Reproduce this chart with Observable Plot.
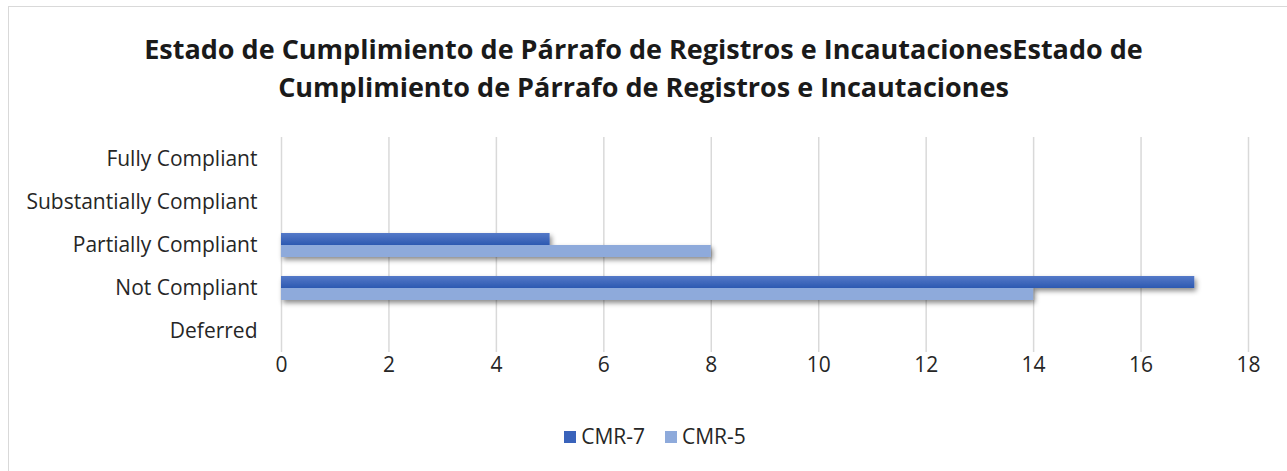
<!DOCTYPE html>
<html>
<head>
<meta charset="utf-8">
<script src="https://cdn.jsdelivr.net/npm/d3@7"></script>
<script src="https://cdn.jsdelivr.net/npm/@observablehq/plot@0.6"></script>
<style>
  html, body { margin: 0; padding: 0; background: #fff; }
  body { width: 1287px; height: 471px; position: relative; overflow: hidden; font-family: "Open Sans", Lato, sans-serif; }
  #frame { position: absolute; left: 8px; top: 6px; width: 1300px; height: 480px; border: 1px solid #d9d9d9; box-sizing: border-box; }
  #title { position: absolute; left: 0; width: 1287px; top: 30px; text-align: center; font-weight: 700; font-size: 27px; line-height: 38px; color: #1a1a1a; }
  #title span { display: block; }
  #chart { position: absolute; left: 0; top: 120px; }
  #legend { position: absolute; top: 422px; left: 0; width: 1310px; text-align: center; font-size: 21px; color: #262626; }
  .sw { display: inline-block; width: 12px; height: 12px; margin-right: 5px; vertical-align: 1px; }
  .item { margin: 0 10px; }
</style>
</head>
<body>
<div id="frame"></div>
<div id="title"></div>
<div id="chart"></div>
<div id="legend"></div>
<script>
const titleLines = ["Estado de Cumplimiento de Párrafo de Registros e IncautacionesEstado de", "Cumplimiento de Párrafo de Registros e Incautaciones"];
const categories = ["Fully Compliant", "Substantially Compliant", "Partially Compliant", "Not Compliant", "Deferred"];
const series = ["CMR-7", "CMR-5"];
const cmr7 = [0, 0, 5, 17, 0];
const cmr5 = [0, 0, 8, 14, 0];
const xTicks = [0, 2, 4, 6, 8, 10, 12, 14, 16, 18];
const colors = ["#3a63bb", "#8eaadb"];

document.getElementById("title").innerHTML = titleLines.map(t => `<span>${t}</span>`).join("");

const data = categories.flatMap((c, i) => [
  {category: c, series: series[0], value: cmr7[i]},
  {category: c, series: series[1], value: cmr5[i]}
]);

const chart = Plot.plot({
  width: 1287,
  height: 262,
  marginLeft: 281,
  marginRight: 39,
  marginTop: 17,
  marginBottom: 30,
  style: {fontFamily: "'Open Sans', Lato, sans-serif", fontSize: "21px", color: "#262626", background: "transparent"},
  x: {domain: [0, 18], ticks: xTicks, label: null, tickSize: 0, tickPadding: 5},
  fy: {domain: categories, padding: 0, label: null, axis: "left", tickSize: 0, tickPadding: 24},
  y: {domain: series, axis: null, paddingInner: 0, paddingOuter: 0.67},
  color: {domain: series, range: colors},
  marks: [
    Plot.ruleX(xTicks, {stroke: "#d9d9d9", strokeWidth: 1.5}),
    Plot.barX(data, {x: "value", y: "series", fy: "category", fill: "series"})
  ]
});
document.getElementById("chart").appendChild(chart);

// drop shadow + gradient for bars
const svg = d3.select(chart);
const defs = svg.insert("defs", ":first-child");
const f = defs.append("filter").attr("id", "shadow").attr("x", "-5%").attr("y", "-50%").attr("width", "110%").attr("height", "220%");
f.append("feDropShadow").attr("dx", 2).attr("dy", 3).attr("stdDeviation", 2.5).attr("flood-color", "#000").attr("flood-opacity", 0.45);
const g = defs.append("linearGradient").attr("id", "g7").attr("x1", 0).attr("y1", 0).attr("x2", 0).attr("y2", 1);
g.append("stop").attr("offset", "0%").attr("stop-color", "#5479c8");
g.append("stop").attr("offset", "100%").attr("stop-color", "#2d59b1");
svg.selectAll("g[aria-label='bar']").attr("filter", "url(#shadow)");
svg.selectAll("g[aria-label='bar'] rect").each(function() {
  const el = d3.select(this);
  if (el.attr("fill") === colors[0]) el.attr("fill", "url(#g7)");
});

document.getElementById("legend").innerHTML = series.map((s, i) =>
  `<span class="item"><span class="sw" style="background:${colors[i]}"></span>${s}</span>`).join("");
</script>
</body>
</html>
